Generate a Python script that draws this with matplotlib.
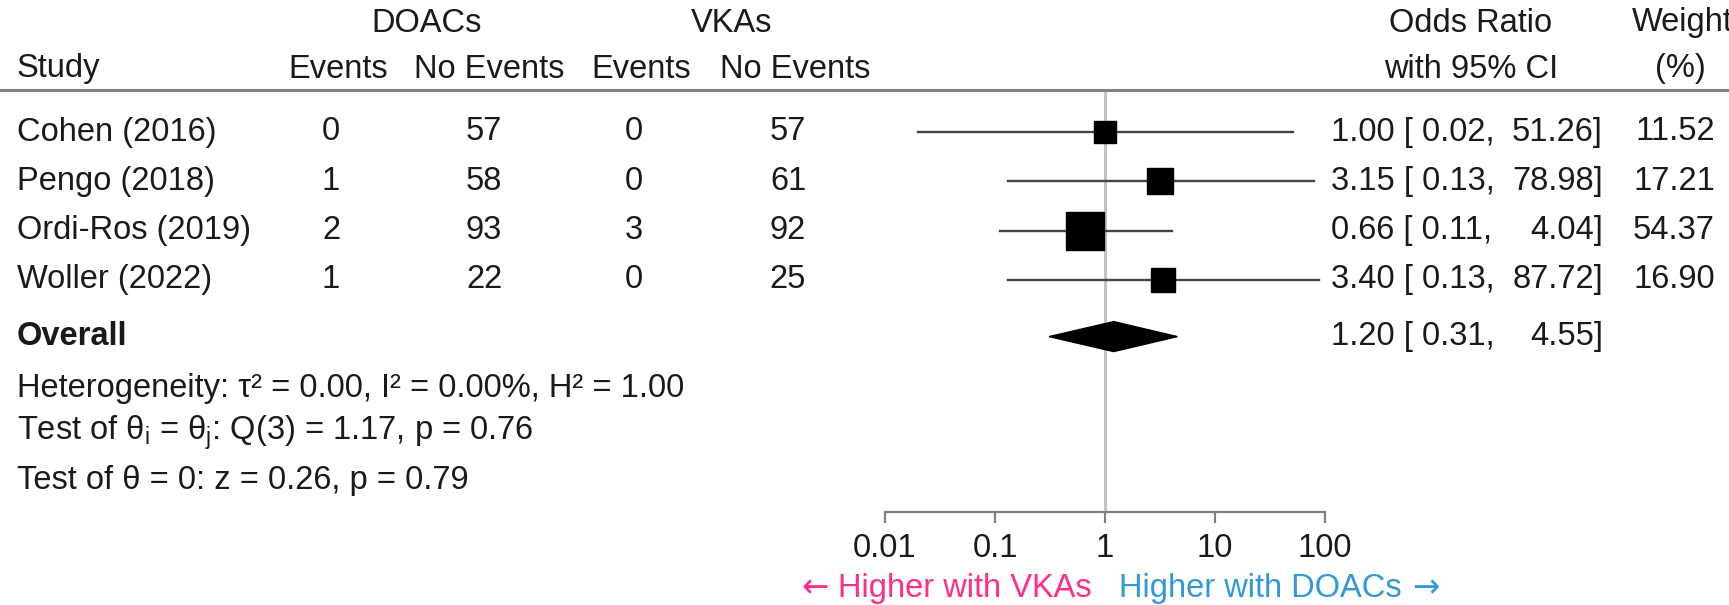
import numpy as np
import matplotlib.pyplot as plt
from matplotlib.lines import Line2D
from matplotlib.patches import Polygon
from matplotlib import transforms

# data
studies = ["Cohen (2016)", "Pengo (2018)", "Ordi-Ros (2019)", "Woller (2022)"]
doac_events = [0, 1, 2, 1]
doac_no_events = [57, 58, 93, 22]
vka_events = [0, 0, 3, 0]
vka_no_events = [57, 61, 92, 25]
odds_ratio = [1.00, 3.15, 0.66, 3.40]
ci_low = [0.02, 0.13, 0.11, 0.13]
ci_high = [51.26, 78.98, 4.04, 87.72]
weights = [11.52, 17.21, 54.37, 16.90]

overall_or = 1.20
overall_low = 0.31
overall_high = 4.55

stats_lines = [
    "Heterogeneity: τ² = 0.00, I² = 0.00%, H² = 1.00",
    r"Test of $\mathregular{θ_i}$ = $\mathregular{θ_j}$: Q(3) = 1.17, p = 0.76",
    "Test of θ = 0: z = 0.26, p = 0.79",
]
x_ticks = [0.01, 0.1, 1, 10, 100]
x_tick_labels = ["0.01", "0.1", "1", "10", "100"]

W, H = 1729, 605
plt.rcParams['font.family'] = ['Liberation Sans', 'DejaVu Sans']
plt.rcParams['mathtext.fontset'] = 'custom'
plt.rcParams['mathtext.rm'] = 'Liberation Sans'
FS = 23.5
TXT = '#1a1a1a'

fig = plt.figure(figsize=(W / 100, H / 100), dpi=100)


def fx(px):
    return px / W


def fy(py):
    return 1 - py / H


# forest axes: x from 0.01 to 100, top at header rule, bottom at axis line
left, right, top, bottom = 885, 1325, 90, 512
ax = fig.add_axes([fx(left), fy(bottom), fx(right - left), (bottom - top) / H])
row_px = 49.3
first_row = 132
ax.set_xscale('log')
ax.set_xlim(0.01, 100)
ax.set_ylim((bottom - first_row) / row_px, (top - first_row) / row_px)
ax.patch.set_alpha(0)
for s in ['top', 'right', 'left']:
    ax.spines[s].set_visible(False)
ax.spines['bottom'].set_color('#808080')
ax.spines['bottom'].set_linewidth(1.6)
ax.set_yticks([])
ax.set_xticks(x_ticks)
ax.set_xticklabels(x_tick_labels, fontsize=FS, color=TXT)
ax.minorticks_off()
ax.tick_params(axis='x', direction='out', length=8, width=1.6, color='#808080', pad=7)

ax.axvline(1, color='#c4c4c4', lw=2.2, zorder=0)

rows = np.arange(len(studies))
overall_row = 4.15

for i in rows:
    ax.plot([ci_low[i], ci_high[i]], [i, i], color='#454545', lw=1.7, zorder=2)
    side = (8.4 + 4.02 * np.sqrt(weights[i])) * 0.72
    ax.plot(odds_ratio[i], i, marker='s', color='black', markersize=side,
            linestyle='none', zorder=3)

dh = 15 / row_px
diamond = Polygon([(overall_low, overall_row), (overall_or, overall_row - dh),
                   (overall_high, overall_row), (overall_or, overall_row + dh)],
                  closed=True, color='black', zorder=3)
ax.add_patch(diamond)

# header rule across the whole figure
fig.add_artist(Line2D([0, 1], [fy(90), fy(90)], color='#808080', lw=2.2))

tr = transforms.blended_transform_factory(fig.transFigure, ax.transData)

# headers
fig.text(fx(427), fy(23), "DOACs", ha='center', va='center', fontsize=FS, color=TXT)
fig.text(fx(732), fy(23), "VKAs", ha='center', va='center', fontsize=FS, color=TXT)
fig.text(fx(1471), fy(23), "Odds Ratio", ha='center', va='center', fontsize=FS, color=TXT)
fig.text(fx(1632), fy(23), "Weight", ha='left', va='center', fontsize=FS, color=TXT)
fig.text(fx(17), fy(69), "Study", ha='left', va='center', fontsize=FS, color=TXT)
for xc, lab in [(338, "Events"), (489, "No Events"), (641, "Events"), (795, "No Events")]:
    fig.text(fx(xc), fy(69), lab, ha='center', va='center', fontsize=FS, color=TXT)
fig.text(fx(1471), fy(69), "with 95% CI", ha='center', va='center', fontsize=FS, color=TXT)
fig.text(fx(1680), fy(69), "(%)", ha='center', va='center', fontsize=FS, color=TXT)

# study rows
for i in rows:
    fig.text(fx(17), i, studies[i], transform=tr, ha='left', va='center', fontsize=FS, color=TXT)
    for xc, v in [(331, doac_events[i]), (484, doac_no_events[i]),
                  (634, vka_events[i]), (788, vka_no_events[i])]:
        fig.text(fx(xc), i, str(v), transform=tr, ha='center', va='center', fontsize=FS, color=TXT)
    fig.text(fx(1331), i, f"{odds_ratio[i]:.2f} [ {ci_low[i]:.2f},", transform=tr,
             ha='left', va='center', fontsize=FS, color=TXT)
    fig.text(fx(1603), i, f"{ci_high[i]:.2f}]", transform=tr,
             ha='right', va='center', fontsize=FS, color=TXT)
    fig.text(fx(1715), i, f"{weights[i]:.2f}", transform=tr,
             ha='right', va='center', fontsize=FS, color=TXT)

fig.text(fx(17), overall_row, "Overall", transform=tr, ha='left', va='center',
         fontsize=FS, color=TXT, fontweight='bold')
fig.text(fx(1331), overall_row, f"{overall_or:.2f} [ {overall_low:.2f},", transform=tr,
         ha='left', va='center', fontsize=FS, color=TXT)
fig.text(fx(1603), overall_row, f"{overall_high:.2f}]", transform=tr,
         ha='right', va='center', fontsize=FS, color=TXT)

for yy, line in zip([388, 433, 480], stats_lines):
    fig.text(fx(17), fy(yy), line, ha='left', va='center', fontsize=FS, color=TXT)

# direction labels with wide arrows
pink, blue = '#ff2e88', '#3399d4'
renderer = fig.canvas.get_renderer()
t_left = fig.text(fx(1092), fy(588), "Higher with VKAs", ha='right', va='center',
                  fontsize=FS, color=pink)
t_right = fig.text(fx(1119), fy(588), "Higher with DOACs", ha='left', va='center',
                   fontsize=FS, color=blue)
bl = t_left.get_window_extent(renderer)
br = t_right.get_window_extent(renderer)
fig.text(fx(bl.x0 - 10), fy(588), "←", ha='right', va='center', fontsize=FS,
         color=pink, family='DejaVu Sans')
fig.text(fx(br.x1 + 10), fy(588), "→", ha='left', va='center', fontsize=FS,
         color=blue, family='DejaVu Sans')

fig.savefig("out.png", dpi=100)
